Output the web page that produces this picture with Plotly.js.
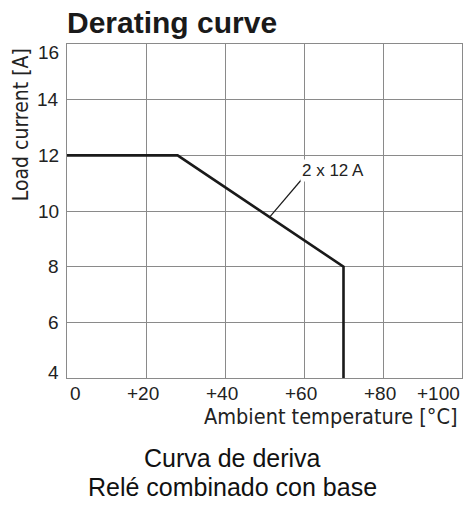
<!DOCTYPE html>
<html><head><meta charset="utf-8">
<script src="https://cdn.plot.ly/plotly-3.0.1.min.js"></script>
<style>html,body{margin:0;padding:0;background:#fff}#c{width:464px;height:505px}</style>
</head><body><div id="c"></div>
<script>
const temps = [0, 28, 70, 70];
const current = [12, 12, 8, 4];
const xTicks = [0, 20, 40, 60, 80, 100];
const xTickLabels = ["0", "+20", "+40", "+60", "+80", "+100"];
const yTicks = [4, 6, 8, 10, 12, 14, 16];
const yTickLabels = ["4", "6", "8", "10", "12", "14", "16"];
const curveLabel = "2 x 12 A";
const leaderX = [51.4, 59.5];
const leaderY = [9.8, 11.15];

const tickFontFam = "Liberation Sans, Arial, sans-serif";
const condFam = "DejaVu Sans Condensed, Liberation Sans Narrow, Liberation Sans, sans-serif";
const data = [
  {x: temps, y: current, mode: "lines", line: {color: "#1a1a1a", width: 2.6}, hoverinfo: "none"},
  {x: leaderX, y: leaderY, mode: "lines", line: {color: "#1a1a1a", width: 1.2}, hoverinfo: "none"}
];
const ann = [];
xTicks.forEach((v, i) => {
  const first = i === 0, last = i === xTicks.length - 1;
  ann.push({text: xTickLabels[i], xref: "x", yref: "paper", x: v, y: 0, yanchor: "top", yshift: -3,
    xanchor: first ? "left" : (last ? "right" : "center"), xshift: first ? 1 : (last ? 0 : -3),
    showarrow: false, font: {family: tickFontFam, size: 19, color: "#222"}});
});
yTicks.forEach((v, i) => {
  const first = i === 0, last = i === yTicks.length - 1;
  ann.push({text: yTickLabels[i], xref: "paper", yref: "y", x: 0, y: v, xanchor: "right", xshift: -6,
    yanchor: "middle", yshift: first ? 6 : (last ? -8 : 0),
    showarrow: false, font: {family: tickFontFam, size: 19, color: "#222"}});
});
ann.push(
  {text: "<b>Derating curve</b>", xref: "paper", yref: "paper", x: 0, y: 1, xanchor: "left", yanchor: "bottom", yshift: 3, xshift: -2, showarrow: false,
   font: {family: "Liberation Sans, Arial, sans-serif", size: 30, color: "#1a1a1a"}},
  {text: "Load current [A]", xref: "paper", yref: "paper", x: 0, y: 0.757, xanchor: "center", yanchor: "middle", xshift: -46, textangle: -90, showarrow: false,
   font: {family: condFam, size: 21, color: "#222"}},
  {text: "Ambient temperature [°C]", xref: "paper", yref: "paper", x: 1, y: 0, xanchor: "right", yanchor: "middle", yshift: -38, xshift: -2, showarrow: false,
   font: {family: condFam, size: 21.5, color: "#222"}},
  {text: curveLabel, xref: "x", yref: "y", x: 67.3, y: 11.47, xanchor: "center", yanchor: "middle", showarrow: false, bgcolor: "#fff",
   font: {family: tickFontFam, size: 17, color: "#222"}},
  {text: "Curva de deriva", xref: "paper", yref: "paper", x: 0.42, y: 0, xanchor: "center", yanchor: "middle", yshift: -80, showarrow: false,
   font: {family: "Liberation Sans, Arial, sans-serif", size: 25, color: "#111"}},
  {text: "Relé combinado con base", xref: "paper", yref: "paper", x: 0.42, y: 0, xanchor: "center", yanchor: "middle", yshift: -109, showarrow: false,
   font: {family: "Liberation Sans, Arial, sans-serif", size: 25, color: "#111"}}
);
const layout = {
  width: 464, height: 505,
  margin: {l: 67, r: 2, t: 44, b: 127},
  showlegend: false,
  paper_bgcolor: "#fff", plot_bgcolor: "#fff",
  xaxis: {range: [0, 100], tickvals: xTicks, showticklabels: false, showgrid: true, gridcolor: "#8a8a8a", gridwidth: 1,
          zeroline: false, showline: true, linecolor: "#8a8a8a", linewidth: 1, mirror: true, ticks: "", fixedrange: true},
  yaxis: {range: [4, 16], tickvals: yTicks, showticklabels: false, showgrid: true, gridcolor: "#8a8a8a", gridwidth: 1,
          zeroline: false, showline: true, linecolor: "#8a8a8a", linewidth: 1, mirror: true, ticks: "", fixedrange: true},
  annotations: ann
};
Plotly.newPlot("c", data, layout, {staticPlot: true, displayModeBar: false});
</script></body></html>
